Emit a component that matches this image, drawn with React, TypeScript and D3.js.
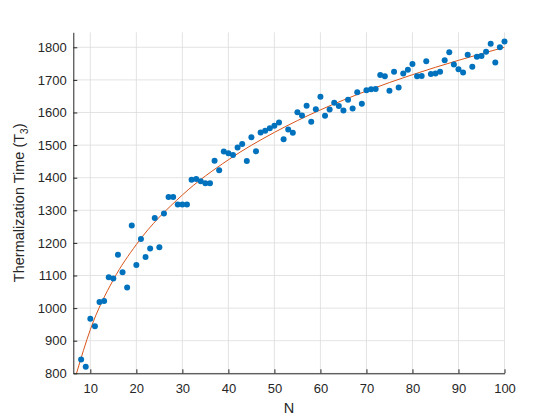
import React, { useEffect, useRef } from "react";
import * as d3 from "d3";

// particle count N
const nValues = [
  8, 9, 10, 11, 12, 13, 14, 15, 16, 17, 18, 19, 20, 21, 22, 23, 24, 25, 26, 27,
  28, 29, 30, 31, 32, 33, 34, 35, 36, 37, 38, 39, 40, 41, 42, 43, 44, 45, 46, 47,
  48, 49, 50, 51, 52, 53, 54, 55, 56, 57, 58, 59, 60, 61, 62, 63, 64, 65, 66, 67,
  68, 69, 70, 71, 72, 73, 74, 75, 76, 77, 78, 79, 80, 81, 82, 83, 84, 85, 86, 87,
  88, 89, 90, 91, 92, 93, 94, 95, 96, 97, 98, 99, 100,
];

// measured thermalization time (T3)
const thermTimes = [
  842, 820, 967, 944, 1019, 1022, 1095, 1091, 1164, 1110, 1063, 1253, 1132, 1212,
  1157, 1183, 1276, 1187, 1290, 1341, 1341, 1318, 1318, 1318, 1394, 1396, 1389,
  1383, 1383, 1452, 1423, 1480, 1475, 1470, 1493, 1503, 1451, 1524, 1481, 1539,
  1544, 1552, 1559, 1569, 1518, 1548, 1538, 1601, 1591, 1621, 1572, 1610, 1648,
  1590, 1609, 1630, 1620, 1606, 1639, 1612, 1662, 1627, 1668, 1671, 1672, 1715,
  1711, 1667, 1725, 1677, 1720, 1731, 1749, 1711, 1712, 1757, 1718, 1720, 1725,
  1760, 1785, 1747, 1733, 1723, 1777, 1740, 1771, 1773, 1786, 1811, 1753, 1800,
  1818,
];

// fitted curve
const fitN = [7, 10, 15, 20, 30, 40, 50, 60, 70, 80, 90, 100];
const fitT = [800, 934, 1087, 1195, 1347, 1455, 1539, 1608, 1666, 1716, 1760, 1800];

const xTicks = [10, 20, 30, 40, 50, 60, 70, 80, 90, 100];
const yTicks = [800, 900, 1000, 1100, 1200, 1300, 1400, 1500, 1600, 1700, 1800];

const width = 560;
const height = 420;
const font = "'Liberation Sans', Arial, Helvetica, sans-serif";
const ink = "#262626";

export default function App() {
  const ref = useRef<SVGSVGElement>(null);

  useEffect(() => {
    const svg = d3.select(ref.current);
    svg.selectAll("*").remove();

    const left = 73.3, right = 504.5, top = 32.3, bottom = 373.3;
    const x = d3.scaleLinear().domain([6.3, 100]).range([left, right]);
    const y = d3.scaleLinear().domain([800, 1846]).range([bottom, top]);

    svg.append("rect").attr("width", width).attr("height", height).attr("fill", "#fff");

    // grid
    const grid = svg.append("g").attr("stroke", "#dcdcdc").attr("stroke-width", 0.8);
    grid.selectAll("line.v")
      .data(xTicks)
      .join("line")
      .attr("class", "v")
      .attr("x1", d => x(d)).attr("x2", d => x(d))
      .attr("y1", top).attr("y2", bottom);
    grid.selectAll("line.h")
      .data(yTicks)
      .join("line")
      .attr("class", "h")
      .attr("x1", left).attr("x2", right)
      .attr("y1", d => y(d)).attr("y2", d => y(d));

    svg.append("clipPath").attr("id", "plotclip")
      .append("rect")
      .attr("x", left).attr("y", top)
      .attr("width", right - left).attr("height", bottom - top);

    // fit line
    const line = d3.line<number>()
      .x((d, i) => x(fitN[i]))
      .y(d => y(d))
      .curve(d3.curveMonotoneX);
    svg.append("path")
      .attr("d", line(fitT))
      .attr("fill", "none")
      .attr("stroke", "#D95319")
      .attr("stroke-width", 1)
      .attr("clip-path", "url(#plotclip)");

    // scatter
    svg.append("g")
      .selectAll("circle")
      .data(thermTimes)
      .join("circle")
      .attr("cx", (d, i) => x(nValues[i]))
      .attr("cy", d => y(d))
      .attr("r", 3)
      .attr("fill", "#0072BD");

    // axes
    const xAxis = d3.axisBottom(x).tickValues(xTicks).tickFormat(d3.format("d"))
      .tickSizeInner(-4).tickSizeOuter(0).tickPadding(10.8);
    const yAxis = d3.axisLeft(y).tickValues(yTicks).tickFormat(d3.format("d"))
      .tickSizeInner(-4).tickSizeOuter(0).tickPadding(6.6);

    const gx = svg.append("g").attr("transform", `translate(0,${bottom})`).call(xAxis);
    const gy = svg.append("g").attr("transform", `translate(${left},0)`).call(yAxis);
    [gx, gy].forEach(g => {
      g.select(".domain").attr("stroke", ink).attr("stroke-width", 1);
      g.selectAll(".tick line").attr("stroke", ink);
      g.selectAll(".tick text")
        .attr("fill", ink)
        .style("font-family", font)
        .style("font-size", "13px");
    });

    svg.append("text")
      .attr("x", (left + right) / 2)
      .attr("y", 413.3)
      .attr("text-anchor", "middle")
      .attr("fill", ink)
      .style("font-family", font)
      .style("font-size", "14.5px")
      .text("N");

    const yl = svg.append("text")
      .attr("transform", `translate(24,${(top + bottom) / 2}) rotate(-90)`)
      .attr("text-anchor", "middle")
      .attr("fill", ink)
      .style("font-family", font)
      .style("font-size", "14.5px");
    yl.append("tspan").text("Thermalization Time (T");
    yl.append("tspan").attr("dy", 3.5).style("font-size", "10px").text("3");
    yl.append("tspan").attr("dy", -3.5).text(")");
  }, []);

  return (
    <svg
      ref={ref}
      width={width}
      height={height}
      style={{ position: "absolute", left: 0, top: 0, display: "block" }}
    />
  );
}
